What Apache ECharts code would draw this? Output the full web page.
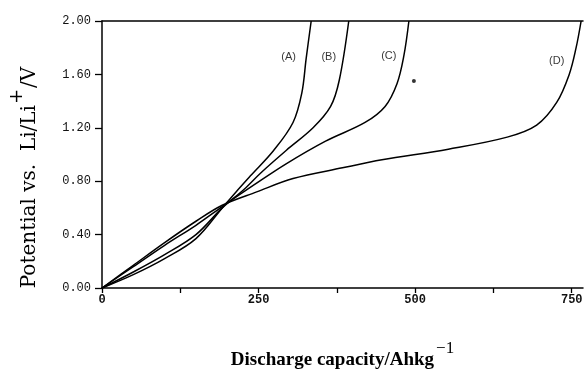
<!DOCTYPE html>
<html>
<head>
<meta charset="utf-8">
<script src="https://cdn.jsdelivr.net/npm/echarts@6/dist/echarts.min.js"></script>
<style>html,body{margin:0;padding:0;background:#fff}#c{width:588px;height:375px}</style>
</head>
<body>
<div id="c"></div>
<script>
// Discharge curves: [capacity (Ah/kg), potential (V)]
const curveA = [[0,0],[50,0.1],[100,0.22],[150,0.37],[192,0.6],[214,0.72],[237,0.84],[274,1.03],[305,1.24],[319,1.46],[326,1.72],[334,2.0]];
const curveB = [[0,0],[50,0.12],[100,0.25],[150,0.4],[192,0.6],[227,0.74],[253,0.86],[294,1.03],[337,1.2],[365,1.36],[379,1.56],[394,2.0]];
const curveC = [[0,0],[50,0.16],[100,0.32],[150,0.47],[192,0.61],[242,0.77],[294,0.93],[357,1.1],[420,1.24],[452,1.36],[471,1.53],[482,1.74],[490,2.0]];
const curveD = [[0,0],[50,0.17],[100,0.34],[150,0.5],[192,0.62],[247,0.72],[305,0.82],[384,0.9],[447,0.96],[553,1.04],[647,1.13],[694,1.22],[726,1.39],[746,1.6],[757,1.8],[765,2.0]];
const curveLabels = [{name:'(A)', value:[298,1.73]},{name:'(B)', value:[362,1.73]},{name:'(C)', value:[458,1.74]},{name:'(D)', value:[726,1.7]}];
const strayDot = [[498,1.55]];
const xTickValues = [0,125,250,375,500,625,750];
const xLabelValues = [0,250,500,750];

const chart = echarts.init(document.getElementById('c'));
const lineStyle = {color:'#000', width:1.5};
function curve(data){
  return {type:'line', data:data, smooth:0.35, showSymbol:false, symbol:'none', lineStyle:lineStyle, silent:true};
}
chart.setOption({
  animation:false,
  backgroundColor:'#fff',
  grid:{left:96, right:5, top:21, bottom:75, containLabel:false},
  xAxis:[{
    type:'value', min:0, max:768,
    axisLine:{show:true, onZero:false, lineStyle:{color:'#000', width:1.5}},
    axisTick:{show:true, customValues:xTickValues, length:5, lineStyle:{color:'#000', width:1.3}},
    axisLabel:{customValues:xLabelValues, margin:6, fontFamily:'Liberation Mono', fontSize:12, fontWeight:'bold', color:'#111'},
    splitLine:{show:false},
    name:'{t|Discharge capacity/Ahkg}{s|\u22121}',
    nameLocation:'middle', nameGap:52,
    nameTextStyle:{rich:{
      t:{fontFamily:'Liberation Serif', fontWeight:'bold', fontSize:19, color:'#000', verticalAlign:'bottom'},
      s:{fontFamily:'Liberation Serif', fontSize:17, color:'#000', padding:[0,0,13,2], verticalAlign:'bottom'}
    }}
  },{
    type:'value', min:0, max:768, position:'top',
    axisLine:{show:true, onZero:false, lineStyle:{color:'#000', width:1.5}},
    axisTick:{show:false}, axisLabel:{show:false}, splitLine:{show:false}
  }],
  yAxis:{
    type:'value', min:0, max:2, interval:0.4,
    axisLine:{show:true, onZero:false, lineStyle:{color:'#000', width:1.5}},
    axisTick:{show:true, length:7, lineStyle:{color:'#000', width:1.3}},
    axisLabel:{formatter:v=>v.toFixed(2), margin:11, fontFamily:'Liberation Mono', fontSize:12, color:'#111'},
    splitLine:{show:false},
    name:'{t|Potential vs.  Li/Li}{s|+}{e|/V}',
    nameLocation:'middle', nameGap:62, nameRotate:90,
    nameTextStyle:{rich:{
      t:{fontFamily:'DejaVu Serif', fontSize:20, color:'#000', verticalAlign:'bottom'},
      s:{fontFamily:'DejaVu Serif', fontSize:18, color:'#000', padding:[0,1,14,1], verticalAlign:'bottom'},
      e:{fontFamily:'DejaVu Serif', fontSize:20, color:'#000', verticalAlign:'bottom', padding:[0,46,0,0]}
    }}
  },
  series:[
    curve(curveA), curve(curveB), curve(curveC), curve(curveD),
    {type:'scatter', data:strayDot, symbolSize:4, itemStyle:{color:'#000'}, silent:true},
    {type:'scatter', data:curveLabels, symbolSize:0, silent:true,
     label:{show:true, position:'inside', formatter:p=>p.name, fontFamily:'Liberation Sans', fontSize:11, color:'#000'}}
  ]
});
</script>
</body>
</html>
